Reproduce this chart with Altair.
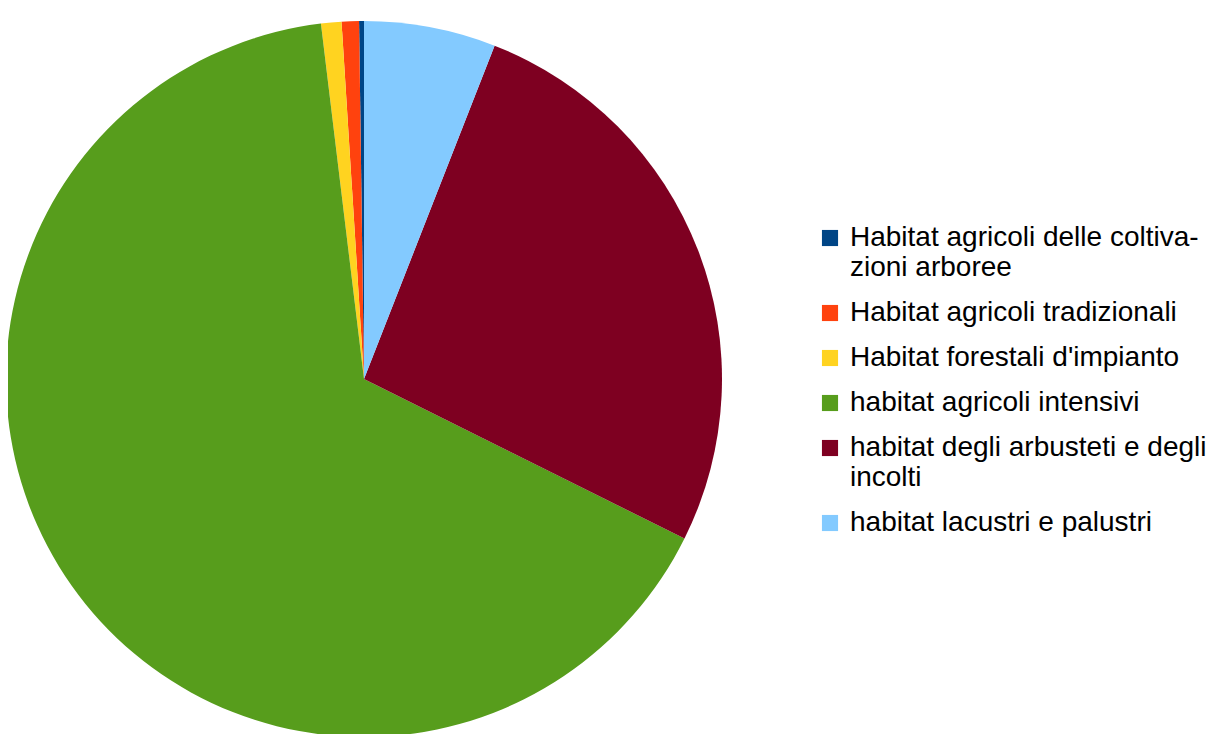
import altair as alt
import pandas as pd

# Legend order (as in the reference legend)
categories = [
    "Habitat agricoli delle coltivazioni arboree",
    "Habitat agricoli tradizionali",
    "Habitat forestali d'impianto",
    "habitat agricoli intensivi",
    "habitat degli arbusteti e degli incolti",
    "habitat lacustri e palustri",
]
legend_lines = [
    ["Habitat agricoli delle coltiva-", "zioni arboree"],
    ["Habitat agricoli tradizionali"],
    ["Habitat forestali d'impianto"],
    ["habitat agricoli intensivi"],
    ["habitat degli arbusteti e degli", "incolti"],
    ["habitat lacustri e palustri"],
]
values = [0.22, 0.78, 0.92, 65.7, 26.4, 5.94]
colors = ["#004586", "#ff420e", "#ffd320", "#579d1c", "#7e0021", "#83caff"]
# clockwise drawing order from 12 o'clock (reverse of legend order)
draw_order = [6, 5, 4, 3, 2, 1]

df = pd.DataFrame({"category": categories, "value": values, "order": draw_order})

def js_str(s):
    return "'" + s.replace("\\", "\\\\").replace("'", "\\'") + "'"

label_expr = ""
for cat, lines in zip(categories, legend_lines):
    arr = "[" + ", ".join(js_str(l) for l in lines) + "]"
    label_expr += f"datum.label == {js_str(cat)} ? {arr} : "
label_expr += "datum.label"

chart = (
    alt.Chart(df)
    .mark_arc(outerRadius=358)
    .encode(
        theta=alt.Theta("value:Q", stack=True),
        order=alt.Order("order:Q"),
        x=alt.value(356),
        y=alt.value(371),
        color=alt.Color(
            "category:N",
            sort=categories,
            scale=alt.Scale(domain=categories, range=colors),
            legend=alt.Legend(
                title=None,
                orient="none",
                legendX=808,
                legendY=216,
                padding=0,
                symbolType="square",
                symbolSize=260,
                symbolStrokeWidth=0,
                labelFont="Liberation Sans",
                labelFontSize=28,
                labelColor="#000000",
                labelLimit=500,
                labelOffset=6,
                labelBaseline="middle",
                rowPadding=17,
                labelExpr=label_expr,
            ),
        ),
    )
    .properties(
        width=1208,
        height=726,
        autosize=alt.AutoSizeParams(type="none"),
        padding=0,
    )
    .configure_view(stroke=None)
)

chart.save("out.html", embed_options={"renderer": "svg", "actions": False})
